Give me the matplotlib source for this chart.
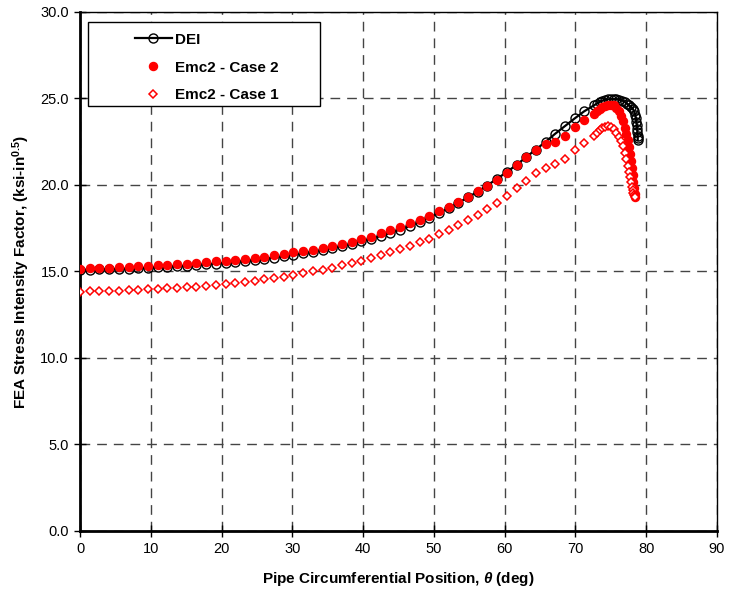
import matplotlib
matplotlib.use("Agg")
from matplotlib import pyplot as plt
from matplotlib.patches import Rectangle
from matplotlib.ticker import MultipleLocator, FormatStrFormatter

plt.rcParams['font.family'] = ['Liberation Sans', 'DejaVu Sans']
plt.rcParams['mathtext.fontset'] = 'custom'
plt.rcParams['mathtext.bf'] = 'Liberation Sans:bold'
plt.rcParams['mathtext.it'] = 'Liberation Sans:italic:bold'
plt.rcParams['mathtext.rm'] = 'Liberation Sans:bold'

# crack-front positions (deg): regular spacing, then dense near the tip
theta = [0.0, 1.4, 2.7, 4.1, 5.5, 6.9, 8.2, 9.6, 11.0, 12.3, 13.7, 15.1, 16.4,
         17.8, 19.2, 20.6, 21.9, 23.3, 24.7, 26.0, 27.4, 28.8, 30.1, 31.5, 32.9,
         34.3, 35.6, 37.0, 38.4, 39.7, 41.1, 42.5, 43.8, 45.2, 46.6, 48.0, 49.3,
         50.7, 52.1, 53.4, 54.8, 56.2, 57.5, 58.9, 60.3, 61.7, 63.0, 64.4, 65.8,
         67.1, 68.5, 69.9, 71.2, 72.6]

theta_tail_emc = [73.0, 73.4, 73.8, 74.2, 74.6, 75.0, 75.4, 75.8, 76.1, 76.4,
                  76.7, 77.0, 77.2, 77.4, 77.6, 77.75, 77.9, 78.0, 78.1, 78.2,
                  78.28, 78.35, 78.4]
theta_tail_dei = [73.0, 73.4, 73.8, 74.2, 74.6, 75.0, 75.4, 75.8, 76.2, 76.6,
                  77.0, 77.3, 77.6, 77.9, 78.1, 78.3, 78.45, 78.55, 78.62, 78.68,
                  78.72, 78.75, 78.78, 78.8, 78.8]

k_dei = [15.10, 15.10, 15.12, 15.13, 15.15, 15.17, 15.19, 15.21, 15.24, 15.27,
         15.30, 15.33, 15.37, 15.41, 15.45, 15.50, 15.55, 15.60, 15.66, 15.72,
         15.80, 15.87, 15.96, 16.05, 16.14, 16.24, 16.35, 16.47, 16.60, 16.74,
         16.89, 17.05, 17.23, 17.42, 17.63, 17.86, 18.10, 18.37, 18.66, 18.96,
         19.28, 19.62, 19.97, 20.35, 20.75, 21.17, 21.60, 22.05, 22.50, 22.95,
         23.40, 23.85, 24.25, 24.60]
k_dei_tail = [24.70, 24.80, 24.87, 24.92, 24.95, 24.97, 24.97, 24.96, 24.93, 24.88,
              24.80, 24.70, 24.60, 24.50, 24.40, 24.25, 24.05, 23.85, 23.65, 23.45,
              23.25, 23.05, 22.85, 22.70, 22.60]

k_case2 = [15.15, 15.18, 15.20, 15.22, 15.25, 15.28, 15.30, 15.33, 15.36, 15.39,
           15.42, 15.45, 15.50, 15.54, 15.58, 15.62, 15.67, 15.73, 15.79, 15.85,
           15.93, 16.00, 16.10, 16.18, 16.27, 16.37, 16.48, 16.60, 16.73, 16.87,
           17.02, 17.20, 17.38, 17.57, 17.78, 18.00, 18.22, 18.48, 18.75, 19.03,
           19.33, 19.64, 19.96, 20.30, 20.70, 21.15, 21.60, 22.05, 22.35, 22.50,
           22.85, 23.35, 23.75, 24.10]
k_case2_tail = [24.25, 24.40, 24.50, 24.58, 24.63, 24.65, 24.60, 24.45, 24.25, 24.00,
                23.70, 23.30, 22.95, 22.60, 22.20, 21.80, 21.40, 21.00, 20.60, 20.20,
                19.80, 19.50, 19.30]

k_case1 = [13.82, 13.85, 13.87, 13.88, 13.90, 13.92, 13.95, 13.97, 14.00, 14.02,
           14.05, 14.09, 14.13, 14.18, 14.23, 14.28, 14.34, 14.40, 14.47, 14.55,
           14.62, 14.70, 14.80, 14.90, 15.00, 15.10, 15.22, 15.35, 15.50, 15.63,
           15.78, 15.93, 16.10, 16.28, 16.47, 16.68, 16.90, 17.15, 17.42, 17.70,
           17.98, 18.28, 18.60, 18.95, 19.35, 19.80, 20.25, 20.70, 21.00, 21.20,
           21.50, 22.00, 22.45, 22.85]
k_case1_tail = [23.00, 23.15, 23.30, 23.38, 23.40, 23.35, 23.22, 23.00, 22.80, 22.55,
                22.25, 21.85, 21.50, 21.10, 20.75, 20.45, 20.15, 19.90, 19.70, 19.55,
                19.45, 19.35, 19.30]

fig = plt.figure(figsize=(7.32, 5.94), dpi=100)
ax = fig.add_axes([0.1093, 0.1061, 0.8702, 0.8737])

ax.plot(theta + theta_tail_dei, k_dei + k_dei_tail, color='black', lw=1.6,
        marker='o', ms=6.5, mfc='none', mec='black', mew=1.0, label='DEI', zorder=3)
ax.plot(theta + theta_tail_emc, k_case2 + k_case2_tail, ls='none', marker='o',
        ms=5.8, color='red', mec='red', label='Emc2 - Case 2', zorder=4)
ax.plot(theta + theta_tail_emc, k_case1 + k_case1_tail, ls='none', marker='D',
        ms=4.5, mfc='white', mec='red', mew=1.1, label='Emc2 - Case 1', zorder=4)

ax.set_xlim(0, 90)
ax.set_ylim(0, 30)
ax.xaxis.set_major_locator(MultipleLocator(10))
ax.yaxis.set_major_locator(MultipleLocator(5))
ax.yaxis.set_major_formatter(FormatStrFormatter('%.1f'))
ax.grid(True, color='#444444', linestyle=(0, (7, 5)), linewidth=1.0)
ax.set_axisbelow(True)

for side in ['left', 'bottom']:
    ax.spines[side].set_linewidth(2.0)
for side in ['top', 'right']:
    ax.spines[side].set_linewidth(1.0)
ax.tick_params(direction='inout', length=8, width=1.0, labelsize=10.5, pad=4)

ax.set_xlabel(r'Pipe Circumferential Position, $\theta$ (deg)', fontsize=11,
              fontweight='bold', labelpad=10)
ax.set_ylabel(r'FEA Stress Intensity Factor, (ksi-in$^{0.5}$)', fontsize=11,
              fontweight='bold', labelpad=6)

# legend box drawn separately, entries sit towards its middle like the original
box = Rectangle((0.0126, 0.8189), 0.3642, 0.1618, transform=ax.transAxes,
                facecolor='white', edgecolor='black', linewidth=1.0, zorder=9)
ax.add_patch(box)
leg = ax.legend(loc='upper left', bbox_to_anchor=(0.0863, 0.960), frameon=False,
                prop={'weight': 'bold', 'size': 11}, handlelength=2.4,
                borderpad=0, labelspacing=0.9, borderaxespad=0,
                handletextpad=0.25)
leg.set_zorder(10)

plt.savefig('out.png', dpi=100)
